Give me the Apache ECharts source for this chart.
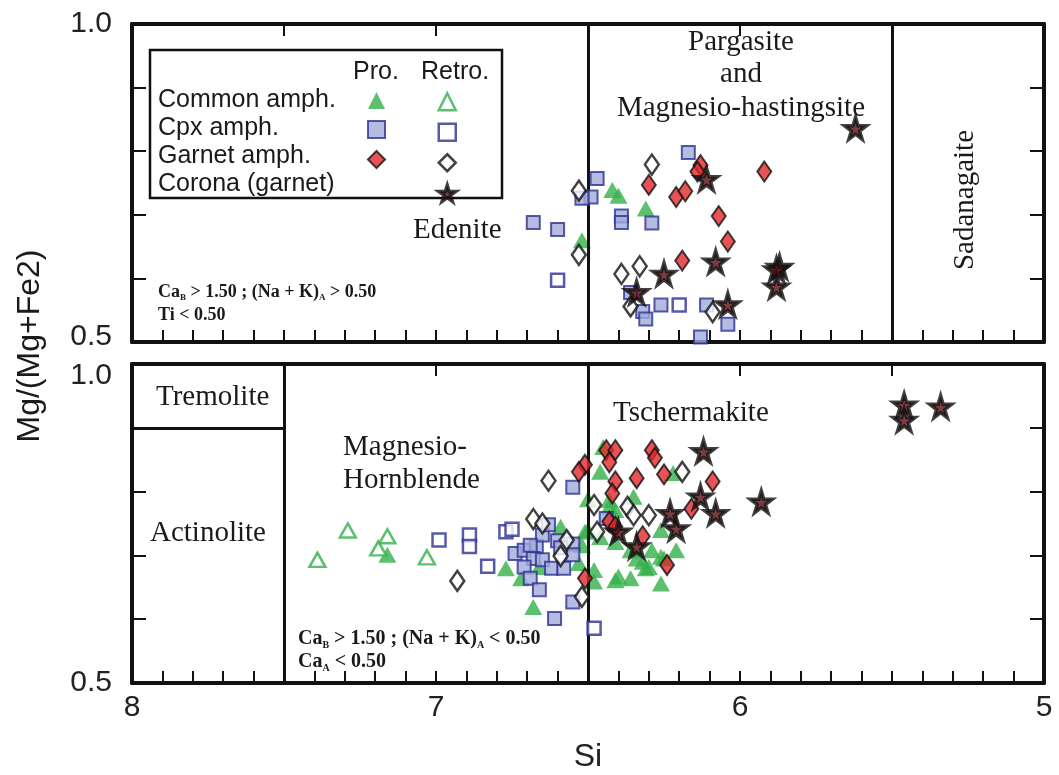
<!DOCTYPE html>
<html>
<head>
<meta charset="utf-8">
<script src="https://cdn.jsdelivr.net/npm/echarts@6/dist/echarts.min.js"></script>
<style>
  body { margin: 0; background: #fff; }
  #chart { width: 1059px; height: 775px; }
</style>
</head>
<body>
<div id="chart"></div>
<script>
// ---- data: [Si, Mg/(Mg+Fe2)] ----
// upper panel: CaB > 1.50 ; (Na + K)A > 0.50
let commonProTop = [[6.42, 0.739], [6.40, 0.730], [6.31, 0.710], [6.52, 0.660]];
let commonRetroTop = [];
let cpxProTop = [[6.17, 0.798], [6.47, 0.757], [6.49, 0.728], [6.52, 0.726], [6.39, 0.698], [6.39, 0.688],
    [6.29, 0.687], [6.68, 0.688], [6.60, 0.677], [6.36, 0.578], [6.32, 0.548], [6.31, 0.536],
    [6.26, 0.558], [6.11, 0.558], [6.04, 0.528], [6.13, 0.508]];
let cpxRetroTop = [[6.60, 0.597], [6.20, 0.558]];
let garnetProTop = [[6.30, 0.747], [6.13, 0.778], [6.14, 0.768], [6.21, 0.728], [6.18, 0.737], [5.92, 0.768],
    [6.07, 0.698], [6.04, 0.658], [6.19, 0.628]];
let garnetRetroTop = [[6.29, 0.779], [6.53, 0.738], [6.53, 0.637], [6.39, 0.607], [6.33, 0.619], [6.36, 0.556],
    [6.09, 0.547]];
let coronaTop = [[6.11, 0.756], [6.25, 0.607], [6.08, 0.626], [6.34, 0.578], [6.04, 0.559], [5.87, 0.618],
    [5.88, 0.614], [5.88, 0.587], [5.62, 0.836]];

// lower panel: CaB > 1.50 ; (Na + K)A < 0.50
let commonProBottom = [[7.16, 0.701], [6.77, 0.680], [6.68, 0.619], [6.72, 0.664], [6.66, 0.682], [6.59, 0.745],
    [6.52, 0.716], [6.53, 0.688], [6.50, 0.740], [6.50, 0.788], [6.45, 0.870], [6.46, 0.831], [6.22, 0.829],
    [6.35, 0.792], [6.43, 0.776], [6.26, 0.740], [6.51, 0.737], [6.46, 0.729], [6.41, 0.721], [6.36, 0.708],
    [6.21, 0.708], [6.34, 0.695], [6.29, 0.708], [6.26, 0.698], [6.31, 0.680], [6.48, 0.677], [6.48, 0.659],
    [6.41, 0.661], [6.36, 0.664], [6.26, 0.656], [6.41, 0.771], [6.43, 0.787], [6.32, 0.690], [6.25, 0.695],
    [6.40, 0.667], [6.30, 0.682]];
let commonRetroBottom = [[7.29, 0.739], [7.39, 0.693], [7.16, 0.730], [7.19, 0.711], [7.03, 0.697]];
let cpxProBottom = [[6.55, 0.807], [6.74, 0.703], [6.71, 0.708], [6.67, 0.714], [6.65, 0.732], [6.60, 0.723],
    [6.55, 0.718], [6.55, 0.701], [6.68, 0.695], [6.65, 0.693], [6.71, 0.682], [6.62, 0.680], [6.58, 0.680],
    [6.69, 0.664], [6.66, 0.646], [6.55, 0.627], [6.61, 0.601], [6.44, 0.758], [6.63, 0.748], [6.69, 0.716],
    [6.59, 0.712]];
let cpxRetroBottom = [[6.99, 0.724], [6.89, 0.732], [6.89, 0.714], [6.83, 0.683], [6.77, 0.737], [6.75, 0.741],
    [6.48, 0.586]];
let garnetProBottom = [[6.51, 0.842], [6.53, 0.831], [6.44, 0.865], [6.41, 0.865], [6.29, 0.865], [6.28, 0.853],
    [6.43, 0.846], [6.34, 0.821], [6.25, 0.827], [6.41, 0.816], [6.42, 0.797], [6.09, 0.816], [6.16, 0.773],
    [6.43, 0.753], [6.41, 0.745], [6.32, 0.730], [6.24, 0.685], [6.51, 0.664]];
let garnetRetroBottom = [[6.93, 0.660], [6.63, 0.817], [6.68, 0.757], [6.65, 0.750], [6.57, 0.724], [6.59, 0.699],
    [6.52, 0.635], [6.19, 0.831], [6.48, 0.779], [6.37, 0.776], [6.35, 0.763], [6.30, 0.763], [6.47, 0.737]];
let coronaBottom = [[5.46, 0.936], [5.46, 0.912], [5.34, 0.933], [6.12, 0.863], [5.93, 0.784], [6.13, 0.792],
    [6.08, 0.766], [6.23, 0.766], [6.21, 0.742], [6.40, 0.737], [6.34, 0.714]];

// field boundaries, [Si1, v1, Si2, v2]
let boundsTop = [[6.5, 0.5, 6.5, 1.0], [5.5, 0.5, 5.5, 1.0]];
let boundsBottom = [[7.5, 0.5, 7.5, 1.0], [6.5, 0.5, 6.5, 1.0], [8.0, 0.9, 7.5, 0.9]];

let proNames = ['Common amph. Pro.', 'Cpx amph. Pro.', 'Garnet amph. Pro.'];
let retroNames = ['Common amph. Retro.', 'Cpx amph. Retro.', 'Garnet amph. Retro.', 'Corona (garnet)'];

// ---- styles ----
const SANS = 'Liberation Sans';
const SERIF = 'Liberation Serif';
const INK = '#111';
const STAR = 'path://M50,0 L61,35 L98,35 L68,57 L79,91 L50,70 L21,91 L32,57 L2,35 L39,35 Z';

let marks = {
    'Common amph. Pro.': { symbol: 'triangle', symbolSize: [18, 16], itemStyle: { color: '#35b04b' } },
    'Common amph. Retro.': { symbol: 'triangle', symbolSize: [16, 14], itemStyle: { color: '#fff', borderColor: '#35b04b', borderWidth: 2.5 } },
    'Cpx amph. Pro.': { symbol: 'rect', symbolSize: 13, itemStyle: { color: '#a3abdb', borderColor: '#2e3192', borderWidth: 2 } },
    'Cpx amph. Retro.': { symbol: 'rect', symbolSize: 13, itemStyle: { color: '#fff', borderColor: '#2e3192', borderWidth: 2.5 } },
    'Garnet amph. Pro.': { symbol: 'diamond', symbolSize: [14, 20], itemStyle: { color: '#e2282b', borderColor: INK, borderWidth: 2 } },
    'Garnet amph. Retro.': { symbol: 'diamond', symbolSize: [14, 20], itemStyle: { color: '#fff', borderColor: INK, borderWidth: 2.5 } },
    'Corona (garnet)': { symbol: STAR, symbolSize: 22, itemStyle: { color: '#5a0c12', borderColor: INK, borderWidth: 3.5 } }
};

let panelData = [
    {
        'Common amph. Pro.': commonProTop, 'Common amph. Retro.': commonRetroTop,
        'Cpx amph. Pro.': cpxProTop, 'Cpx amph. Retro.': cpxRetroTop,
        'Garnet amph. Pro.': garnetProTop, 'Garnet amph. Retro.': garnetRetroTop,
        'Corona (garnet)': coronaTop
    },
    {
        'Common amph. Pro.': commonProBottom, 'Common amph. Retro.': commonRetroBottom,
        'Cpx amph. Pro.': cpxProBottom, 'Cpx amph. Retro.': cpxRetroBottom,
        'Garnet amph. Pro.': garnetProBottom, 'Garnet amph. Retro.': garnetRetroBottom,
        'Corona (garnet)': coronaBottom
    }
];
let drawOrder = ['Common amph. Pro.', 'Common amph. Retro.', 'Cpx amph. Pro.', 'Cpx amph. Retro.',
    'Garnet amph. Retro.', 'Garnet amph. Pro.', 'Corona (garnet)'];

let dom = document.getElementById("chart");
let Chart = echarts.init(dom);

function frameAxisX(gridIndex, pos, interval, withLabels) {
    return {
        type: 'value',
        gridIndex: gridIndex,
        position: pos,
        min: 5,
        max: 8,
        interval: interval,
        inverse: true,
        axisLine: { show: true, onZero: false, lineStyle: { color: INK, width: 4 } },
        axisTick: { show: true, inside: true, length: 12, lineStyle: { color: INK, width: 2 } },
        axisLabel: {
            show: withLabels,
            margin: 10,
            fontSize: 30,
            fontFamily: SANS,
            color: '#222',
            showMinLabel: true,
            showMaxLabel: true,
            formatter: function (v) { return Math.abs(v - Math.round(v)) < 1e-6 ? String(Math.round(v)) : ''; }
        },
        splitLine: { show: false },
        name: withLabels ? 'Si' : '',
        nameLocation: 'middle',
        nameGap: 58,
        nameTextStyle: { fontSize: 32, fontFamily: SANS, color: '#222' }
    };
}

// upper panel: its 0.5 sits a little high; lower panel: its 1.0 sits a little low
function frameAxisY(gridIndex, pos, withLabels) {
    return {
        type: 'value',
        gridIndex: gridIndex,
        position: pos,
        min: 0.5,
        max: 1.0,
        interval: 0.1,
        axisLine: { show: true, onZero: false, lineStyle: { color: INK, width: 4 } },
        axisTick: { show: true, inside: true, length: 14, lineStyle: { color: INK, width: 2 } },
        axisLabel: {
            show: withLabels,
            margin: 20,
            fontSize: 30,
            fontFamily: SANS,
            color: '#222',
            showMinLabel: true,
            showMaxLabel: true,
            formatter: function (v) {
                if (Math.abs(v - 0.5) < 1e-6) return gridIndex === 0 ? '{up|0.5}' : '0.5';
                if (Math.abs(v - 1) < 1e-6) return gridIndex === 1 ? '{down|1.0}' : '1.0';
                return '';
            },
            rich: {
                up: { fontSize: 30, fontFamily: SANS, color: '#222', padding: [0, 0, 10, 0] },
                down: { fontSize: 30, fontFamily: SANS, color: '#222', padding: [24, 0, 0, 0] }
            }
        },
        splitLine: { show: false }
    };
}

function boundLines(list) {
    return list.map(function (b) {
        return [{ coord: [b[0], b[1]] }, { coord: [b[2], b[3]] }];
    });
}

let series = [];
[boundsTop, boundsBottom].forEach(function (bounds, p) {
    series.push({
        name: 'bounds',
        type: 'scatter',
        xAxisIndex: p * 2,
        yAxisIndex: p * 2,
        data: [],
        silent: true,
        z: 1,
        markLine: {
            silent: true,
            symbol: ['none', 'none'],
            label: { show: false },
            animation: false,
            lineStyle: { color: INK, width: 3, type: 'solid' },
            data: boundLines(bounds)
        }
    });
});
panelData.forEach(function (pd, p) {
    drawOrder.forEach(function (name, k) {
        let m = marks[name];
        series.push({
            name: name,
            type: 'scatter',
            xAxisIndex: p * 2,
            yAxisIndex: p * 2,
            symbol: m.symbol,
            symbolSize: m.symbolSize,
            itemStyle: m.itemStyle,
            z: 3 + k,
            data: pd[name]
        });
    });
});

function legendBlock(names, left) {
    return {
        data: names.map(function (n) { return { name: n, itemStyle: marks[n].itemStyle }; }),
        orient: 'vertical',
        left: left,
        top: 92,
        padding: 0,
        itemWidth: 17,
        itemHeight: 17,
        itemGap: 11,
        selectedMode: false,
        formatter: function () { return ''; },
        z: 10
    };
}

function txt(x, y, text, font, extra) {
    let el = {
        type: 'text',
        x: x,
        y: y,
        z: 20,
        style: {
            text: text,
            font: font,
            fill: '#1a1a1a',
            align: 'left',
            verticalAlign: 'middle'
        }
    };
    return Object.assign(el, extra || {});
}

function cond(x, y, text, size) {
    return {
        type: 'text',
        x: x,
        y: y,
        z: 20,
        style: {
            text: text,
            verticalAlign: 'middle',
            rich: {
                b: { fontSize: size, fontWeight: 'bold', fontFamily: SERIF, fill: '#1a1a1a', lineHeight: size + 3 },
                s: { fontSize: Math.round(size * 0.5), fontWeight: 'bold', fontFamily: SERIF, fill: '#1a1a1a', verticalAlign: 'bottom', lineHeight: size + 3 }
            }
        }
    };
}

let serifBig = '29px "' + SERIF + '"';
let legendFont = '25px "' + SANS + '"';

let option = {
    animation: false,
    backgroundColor: '#fff',
    grid: [
        { left: 132, right: 15, top: 24, height: 318 },
        { left: 132, right: 15, top: 364, height: 319 }
    ],
    xAxis: [
        frameAxisX(0, 'bottom', 0.1, false),
        frameAxisX(0, 'top', 0.5, false),
        frameAxisX(1, 'bottom', 0.1, true),
        frameAxisX(1, 'top', 0.5, false)
    ],
    yAxis: [
        frameAxisY(0, 'left', true),
        frameAxisY(0, 'right', false),
        frameAxisY(1, 'left', true),
        frameAxisY(1, 'right', false)
    ],
    legend: [legendBlock(proNames, 367), legendBlock(retroNames, 437)],
    graphic: [
        {
            type: 'rect',
            z: 5,
            shape: { x: 150, y: 50, width: 352, height: 148 },
            style: { fill: '#fff', stroke: INK, lineWidth: 2.5 }
        },
        txt(353, 72, 'Pro.', legendFont),
        txt(421, 72, 'Retro.', legendFont),
        txt(158, 100, 'Common amph.', legendFont),
        txt(158, 128, 'Cpx amph.', legendFont),
        txt(158, 156, 'Garnet amph.', legendFont),
        txt(158, 184, 'Corona (garnet)', legendFont),

        txt(413, 230, 'Edenite', serifBig),
        txt(741, 42, 'Pargasite', serifBig),
        txt(741, 74, 'and', serifBig),
        txt(741, 108, 'Magnesio-hastingsite', serifBig),
        txt(965, 200, 'Sadanagaite', serifBig, { rotation: Math.PI / 2 }),
        txt(156, 397, 'Tremolite', serifBig),
        txt(150, 533, 'Actinolite', serifBig),
        txt(343, 447, 'Magnesio-', serifBig),
        txt(343, 480, 'Hornblende', serifBig),
        txt(613, 413, 'Tschermakite', serifBig),

        cond(158, 292, '{b|Ca}{s|B}{b| > 1.50 ; (Na + K)}{s|A}{b| > 0.50}', 18),
        cond(158, 315, '{b|Ti < 0.50}', 18),
        cond(298, 639, '{b|Ca}{s|B}{b| > 1.50 ; (Na + K)}{s|A}{b| < 0.50}', 20),
        cond(298, 662, '{b|Ca}{s|A}{b| < 0.50}', 20),

        txt(30, 346, 'Mg/(Mg+Fe2)', '32px "' + SANS + '"', { rotation: Math.PI / 2 })
    ],
    series: series
};

// centre the multi-line / rotated labels
option.graphic.forEach(function (g) {
    if (g.type === 'text' && ['Pargasite', 'and', 'Magnesio-hastingsite', 'Sadanagaite', 'Mg/(Mg+Fe2)'].indexOf(g.style.text) >= 0) {
        g.style.align = 'center';
    }
});

Chart.setOption(option);
</script>
</body>
</html>
